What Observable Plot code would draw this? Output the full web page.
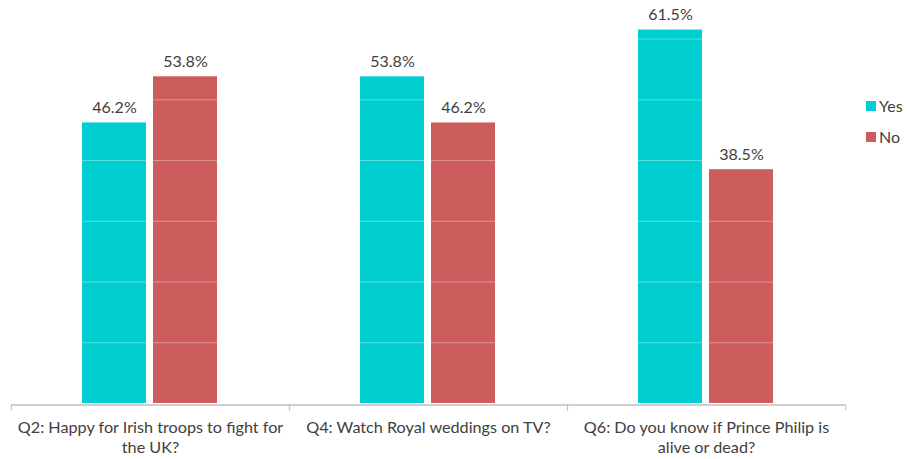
<!DOCTYPE html>
<html>
<head>
<meta charset="utf-8">
<script src="https://cdn.jsdelivr.net/npm/d3@7"></script>
<script src="https://cdn.jsdelivr.net/npm/@observablehq/plot@0.6"></script>
<style>
  html, body { margin: 0; padding: 0; background: #fff; }
  #wrap { position: relative; width: 907px; height: 459px; overflow: hidden; }
  #legend { position: absolute; left: 866px; top: 97px; }
  #legend .lg-swatches, #legend .lg-swatch { font-size: 16px !important; line-height: 18px !important; color: #404040; }
  #legend .lg-swatch { padding-bottom: 13px !important; }
  #legend .lg-swatch svg { margin-right: 3px !important; }
</style>
</head>
<body>
<div id="wrap"><div id="legend"></div></div>
<script>
const questions = [
  "Q2: Happy for Irish troops to fight for the UK?",
  "Q4: Watch Royal weddings on TV?",
  "Q6: Do you know if Prince Philip is alive or dead?"
];
const questionLabels = [
  "Q2: Happy for Irish troops to fight for\nthe UK?",
  "Q4: Watch Royal weddings on TV?",
  "Q6: Do you know if Prince Philip is\nalive or dead?"
];
const answers = ["Yes", "No"];
const yesValues = [46.2, 53.8, 61.5];
const noValues = [53.8, 46.2, 38.5];
const colors = ["#00CED1", "#CD5C5C"];
const gridTicks = [10, 20, 30, 40, 50, 60];

const data = [];
questions.forEach((q, i) => {
  data.push({q, a: "Yes", v: yesValues[i]});
  data.push({q, a: "No", v: noValues[i]});
});

const half = (907 - 10 - 62) / questions.length / 2;

const chart = Plot.plot({
  width: 907,
  height: 459,
  marginLeft: 10,
  marginRight: 62,
  marginTop: 2.2,
  marginBottom: 56,
  style: {fontFamily: "Lato, 'Liberation Sans', sans-serif", color: "#404040", background: "transparent"},
  fx: {domain: questions, padding: 0, label: null},
  x: {domain: answers, paddingInner: 0.097, paddingOuter: 0.981, axis: null},
  y: {domain: [0, 66], axis: null},
  color: {domain: answers, range: colors},
  marks: [
    Plot.barY(data, {fx: "q", x: "a", y: "v", fill: "a"}),
    Plot.gridY(gridTicks, {stroke: "white", strokeOpacity: 0.35}),
    Plot.ruleY([0], {stroke: "#bfbfbf", strokeWidth: 1.5, dy: 1.5}),
    Plot.text(data, {fx: "q", x: "a", y: "v", text: d => d.v.toFixed(1) + "%", dy: -15, fill: "#404040", fontSize: 16}),
    Plot.axisFx({anchor: "bottom", tickSize: 0, tickPadding: 16, fontSize: 16.2, lineHeight: 1.2, fill: "#404040", label: null,
      tickFormat: d => questionLabels[questions.indexOf(d)]}),
    Plot.axisFx({anchor: "bottom", tickSize: 6, dx: -half, dy: 1.5, stroke: "#bfbfbf", label: null, tickFormat: () => ""}),
    Plot.axisFx({anchor: "bottom", tickSize: 6, dx: half, dy: 1.5, stroke: "#bfbfbf", label: null, tickFormat: () => ""})
  ]
});
document.getElementById("wrap").prepend(chart);

const legend = Plot.legend({
  color: {domain: answers, range: colors},
  legend: "swatches",
  columns: 1,
  swatchSize: 10,
  className: "lg",
  style: {fontFamily: "Lato, 'Liberation Sans', sans-serif", fontSize: "16px", color: "#404040"}
});
document.getElementById("legend").appendChild(legend);
</script>
</body>
</html>
